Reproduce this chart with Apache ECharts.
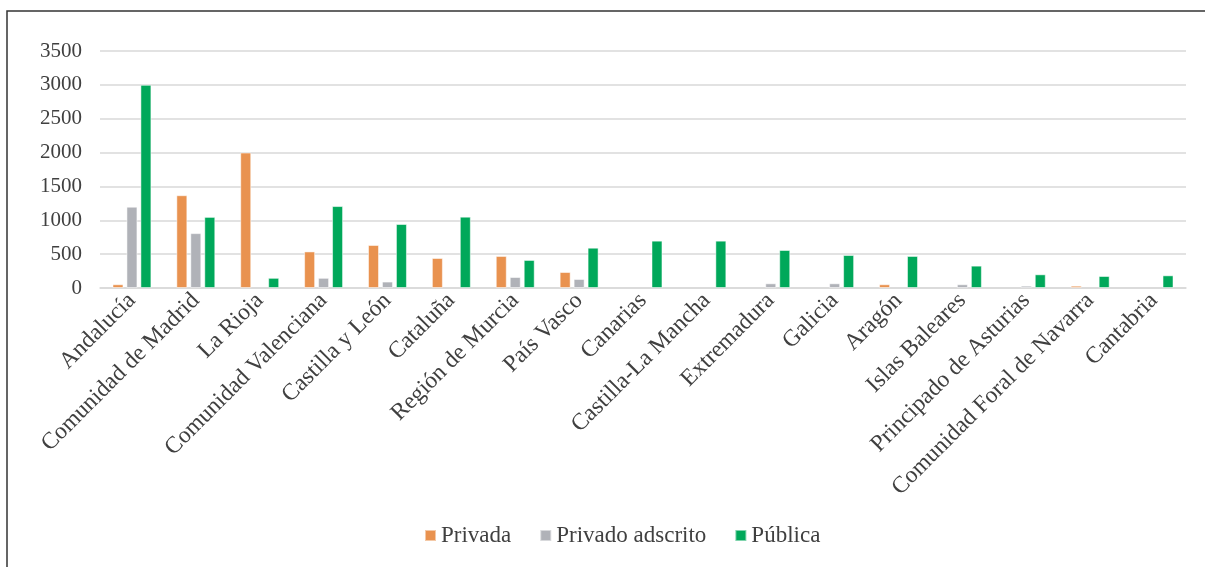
<!DOCTYPE html>
<html><head><meta charset="utf-8">
<script src="https://cdn.jsdelivr.net/npm/echarts@6/dist/echarts.min.js"></script>
<style>html,body{margin:0;padding:0;background:#fff}#c{width:1205px;height:567px}</style>
</head><body><div id="c"></div>
<script>
const categories = ["Andalucía","Comunidad de Madrid","La Rioja","Comunidad Valenciana","Castilla y León","Cataluña","Región de Murcia","País Vasco","Canarias","Castilla-La Mancha","Extremadura","Galicia","Aragón","Islas Baleares","Principado de Asturias","Comunidad Foral de Navarra","Cantabria"];
const privada = [55,1370,2000,540,635,443,473,236,0,0,0,0,55,0,0,34,0];
const privadoAdscrito = [1200,810,0,150,95,0,162,133,0,0,69,69,0,55,34,0,0];
const publica = [3000,1050,150,1210,945,1053,414,595,699,699,561,487,473,330,202,177,187];
const yTicks = [0,500,1000,1500,2000,2500,3000,3500];

const font = '"Liberation Serif", "DejaVu Serif", serif';
const chart = echarts.init(document.getElementById('c'), null, {renderer:'canvas'});
const mk = (name, data, color) => ({
  name, type:'bar', data: data.map(v => v === 0 ? null : v), barWidth:11, barGap:'27%',
  itemStyle:{color, borderColor:'rgba(255,255,255,0.5)', borderWidth:1},
  emphasis:{disabled:true}
});
chart.setOption({
  animation:false,
  textStyle:{fontFamily:font},
  graphic:[{type:'rect', shape:{x:7,y:11,width:1230,height:600}, style:{fill:'none', stroke:'#333', lineWidth:1.5}, z:-1}],
  grid:{left:100, right:19, top:51, bottom:279, containLabel:false},
  legend:{
    data:['Privada','Privado adscrito','Pública'],
    left:419, top:519, itemWidth:11, itemHeight:11, itemGap:28,
    icon:'rect',
    textStyle:{fontFamily:font, fontSize:23, color:'#404040', padding:[0,0,0,0]}
  },
  xAxis:{
    type:'category', data:categories,
    axisTick:{show:false},
    axisLine:{show:true, lineStyle:{color:'#d9d9d9', width:1.5}},
    axisLabel:{rotate:45, interval:0, fontFamily:font, fontSize:23.5, color:'#404040', margin:9}
  },
  yAxis:{
    type:'value', min:0, max:3500, interval:500,
    axisLine:{show:false}, axisTick:{show:false},
    splitLine:{lineStyle:{color:'#d9d9d9', width:1.5}},
    axisLabel:{fontFamily:font, fontSize:21, color:'#404040', margin:18,
      formatter:v => yTicks.includes(v) ? String(v) : ''}
  },
  series:[
    mk('Privada', privada, '#E9924F'),
    mk('Privado adscrito', privadoAdscrito, '#B0B2B8'),
    mk('Pública', publica, '#00A85A')
  ]
});
</script></body></html>
